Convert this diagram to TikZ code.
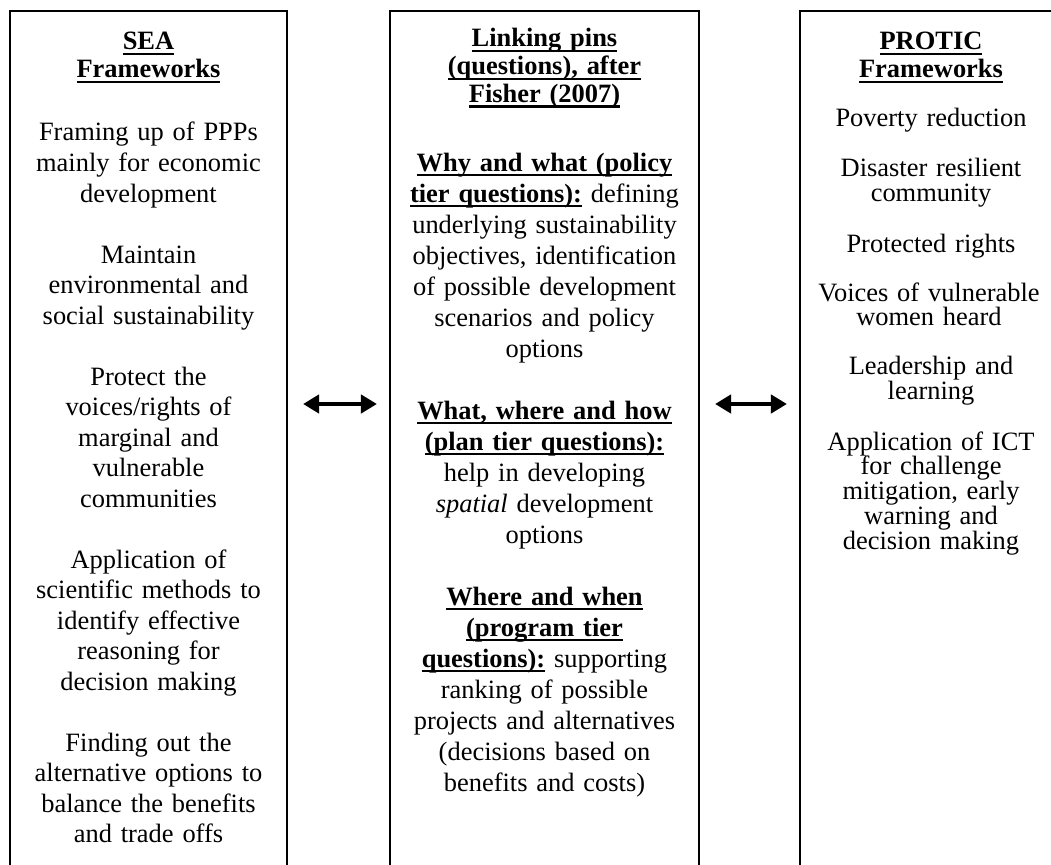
\documentclass[tikz,border=0pt]{standalone}
\usepackage{fontspec}
\setmainfont{Liberation Serif}
\usetikzlibrary{arrows.meta,fit}
\newcommand{\hd}[1]{\setbox0=\hbox{\textbf{#1}}\leavevmode\rlap{\vrule height -1.4pt depth 2.4pt width \wd0}\box0\relax}
\tikzset{
  boxsty/.style={draw=black, line width=0.95pt, inner sep=0pt},
  coltext/.style={align=center, anchor=base, inner sep=0pt},
  headtext/.style={coltext, font=\fontsize{12.3pt}{12.9pt}\selectfont},
  lefttext/.style={coltext, text width=126pt, font=\fontsize{12.3pt}{14.19pt}\selectfont},
  midtext/.style={coltext, text width=141pt, font=\fontsize{12.3pt}{14.42pt}\selectfont},
  righttext/.style={coltext, text width=120pt, font=\fontsize{12.3pt}{11.53pt}\selectfont},
  linkarrow/.style={line width=2.2pt,
    {Triangle[length=7.5pt,width=8.5pt]}-{Triangle[length=7.5pt,width=8.5pt]},
    shorten <=7pt, shorten >=5.6pt}
}
\begin{document}
\begin{tikzpicture}[x=0.4651pt,y=-0.4651pt]
\useasboundingbox (0,0) rectangle (1051,865);
\clip (0,0) rectangle (1051,865);
% boxes (open at the bottom of the picture)
\node[boxsty, fit={(10,11) (287,900)}] (leftbox) {};
\node[boxsty, fit={(390,11) (699,900)}] (midbox) {};
\node[boxsty, fit={(800,11) (1077,900)}] (rightbox) {};
% left column
\node[headtext, text width=126pt] (l0) at (148.5,50) {\hd{SEA}\\\hd{Frameworks}};
\node[lefttext] (l1) at (148.5,141) {Framing up of PPPs\\mainly for economic\\development};
\node[lefttext] (l2) at (148.5,263) {Maintain\\environmental and\\social sustainability};
\node[lefttext] (l3) at (148.5,385) {Protect the\\voices/rights of\\marginal and\\vulnerable\\communities};
\node[lefttext] (l4) at (148.5,568) {Application of\\scientific methods to\\identify effective\\reasoning for\\decision making};
\node[lefttext] (l5) at (148.5,751) {Finding out the\\alternative options to\\balance the benefits\\and trade offs};
% middle column
\node[headtext, text width=141pt] (m0) at (544.5,47) {\hd{Linking pins}\\\hd{(questions), after}\\\hd{Fisher (2007)}};
\node[midtext] (m1) at (544.5,171) {\hd{Why and what (policy}\\\hd{tier questions):} defining\\underlying sustainability\\objectives, identification\\of possible development\\scenarios and policy\\options};
\node[midtext] (m2) at (544.5,419) {\hd{What, where and how}\\\hd{(plan tier questions):}\\help in developing\\\textit{spatial} development\\options};
\node[midtext] (m3) at (544.5,605) {\hd{Where and when}\\\hd{(program tier}\\\hd{questions):} supporting\\ranking of possible\\projects and alternatives\\(decisions based on\\benefits and costs)};
% right column
\node[headtext, text width=120pt] (r0) at (931,50) {\hd{PROTIC}\\\hd{Frameworks}};
\node[righttext] (r1) at (931,127) {Poverty reduction};
\node[righttext] (r2) at (931,177) {Disaster resilient\\community};
\node[righttext] (r3) at (931,252) {Protected rights};
\node[righttext] (r4) at (929,301) {Voices of vulnerable\\women heard};
\node[righttext] (r5) at (931,375) {Leadership and\\learning};
\node[righttext] (r6) at (931,450) {Application of ICT\\for challenge\\mitigation, early\\warning and\\decision making};
% linking arrows
\coordinate (arow) at (0,404);
\draw[linkarrow] (leftbox.east |- arow) -- (midbox.west |- arow);
\draw[linkarrow] (midbox.east |- arow) -- (rightbox.west |- arow);
\end{tikzpicture}
\end{document}
